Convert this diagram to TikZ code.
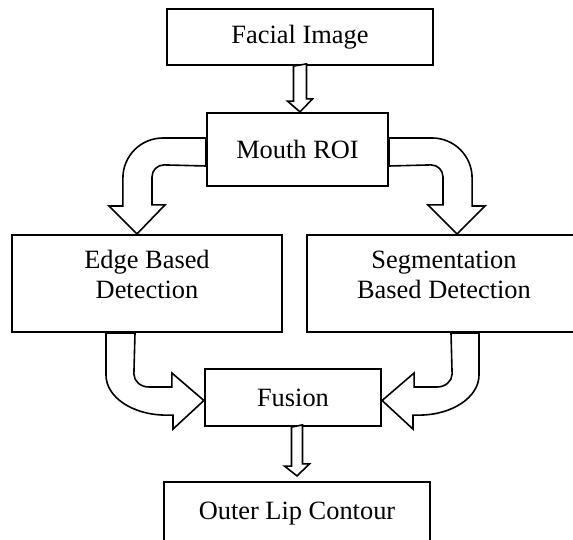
\documentclass[tikz,border=0pt]{standalone}
\usepackage{fontspec}
\setmainfont{Liberation Serif}
\usetikzlibrary{calc}

\begin{document}
\begin{tikzpicture}[x=0.5pt, y=0.5pt,
                    box/.style={draw, line width=1.1pt, align=center, font=\fontsize{13.2}{15}\selectfont},
                    flow/.style={draw, fill=white, line width=0.8pt, line join=miter}]
                        \useasboundingbox (0,0) rectangle (573,-540);

                        \node (facial) at (300,-37) [box, minimum width=133pt, minimum height=28pt] {Facial Image};
                        \node (mouth) at (297.5,-149.5) [box, minimum width=90.5pt, minimum height=36.5pt] {Mouth ROI};
                        \node (edge) at (147,-283.5) [box, minimum width=135pt, minimum height=48.5pt, text depth=9pt] {Edge Based\\Detection};
                        \node (seg) at (444,-283.5) [box, minimum width=137pt, minimum height=48.5pt, text depth=9pt] {Segmentation\\Based Detection};
                        \node (fusion) at (293,-397.5) [box, minimum width=88pt, minimum height=28.5pt] {Fusion};
                        \node (outer) at (297,-513.5) [box, minimum width=133pt, minimum height=31.5pt] {Outer Lip Contour};

                        % straight block arrows
                        \draw[flow] ($(facial.south)+(-6.5,0)$) -- ++(0,-35) -- ++(-6,0) -- (facial.south |- mouth.north)
                                    -- ++(12.5,13) -- ++(-6,0) -- ++(0,35) -- cycle;
                        \draw[flow] ($(outer.north |- fusion.south)+(-5.5,0)$) -- ++(0,-39) -- ++(-7,0) -- ($(outer.north)+(0,5)$)
                                    -- ++(12.5,12) -- ++(-7,0) -- ++(0,39) -- cycle;

                        % curved block arrows out of the mouth box
                        \draw[flow] ([yshift=5.75pt]mouth.west) -- ++(-43,0) arc[start angle=90, end angle=180, radius=40]
                                    -- ++(0,-28) -- ++(-14,0) -- ([xshift=-5pt]edge.north) -- ++(28,29) -- ++(-13,0) -- ++(0,28)
                                    arc[start angle=180, end angle=90, radius=12] -- ([yshift=-8.25pt]mouth.west) -- cycle;
                        \draw[flow] ([yshift=5.75pt]mouth.east) -- ++(43,0) arc[start angle=90, end angle=0, radius=40]
                                    -- ++(0,-28) -- ++(13,0) -- ([xshift=6.5pt]seg.north) -- ++(-29,29) -- ++(15,0) -- ++(0,28)
                                    arc[start angle=0, end angle=90, radius=12] -- ([yshift=-8.25pt]mouth.east) -- cycle;

                        % curved block arrows into the fusion box
                        \draw[flow] ([xshift=-20.5pt]edge.south) -- ++(0,-42) arc[start angle=180, end angle=270, x radius=60, y radius=40]
                                    -- ++(7,0) -- ++(0,-14) -- ([yshift=-1.5pt]fusion.west) -- ++(-32,27.5) -- ++(0,-14) -- ++(-23,0)
                                    arc[start angle=270, end angle=180, x radius=15, y radius=13] -- ([xshift=-6pt]edge.south) -- cycle;
                        \draw[flow] ([xshift=17.5pt]seg.south) -- ++(0,-42) arc[start angle=0, end angle=-90, x radius=60, y radius=40]
                                    -- ++(-6,0) -- ++(0,-14) -- ([yshift=-1.5pt]fusion.east) -- ++(32,27.5) -- ++(0,-14) -- ++(23,0)
                                    arc[start angle=-90, end angle=0, x radius=15, y radius=13] -- ([xshift=3.5pt]seg.south) -- cycle;
                    \end{tikzpicture}
\end{document}
